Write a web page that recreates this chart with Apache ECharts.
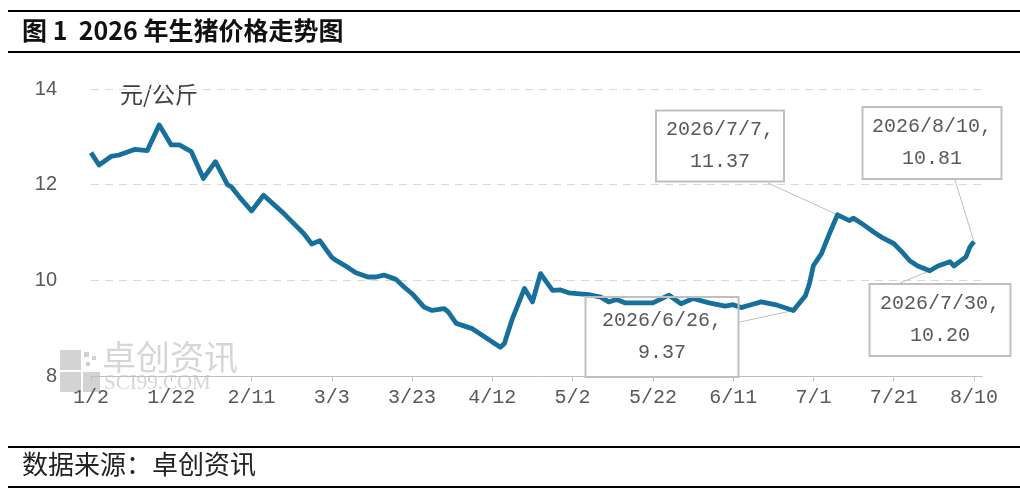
<!DOCTYPE html>
<html>
<head>
<meta charset="utf-8">
<script src="https://cdn.jsdelivr.net/npm/echarts@6/dist/echarts.min.js"></script>
<style>
  html, body { margin: 0; padding: 0; background: #fff; }
  #chart { width: 1020px; height: 498px; }
</style>
</head>
<body>
<div id="chart"></div>
<script>
// axis runs day by day, Excel-style date axis
var axisStart = '2026-01-02';
var axisEnd = '2026-08-12';

// prices (元/公斤)
var sampleDates = ['1/2','1/4','1/7','1/9','1/13','1/16','1/19','1/22','1/24','1/27','1/30',
  '2/2','2/5','2/6','2/8','2/11','2/14','2/19','2/24','2/26','2/28',
  '3/3','3/4','3/7','3/9','3/12','3/14','3/16','3/19','3/21','3/23','3/26','3/28','3/31',
  '4/1','4/3','4/7','4/9','4/12','4/14','4/15','4/17','4/20','4/22','4/24','4/27','4/29',
  '5/1','5/6','5/9','5/11','5/13','5/15','5/22','5/26','5/29',
  '6/1','6/5','6/9','6/11','6/13','6/15','6/18','6/22','6/26','6/29','6/30',
  '7/1','7/3','7/5','7/7','7/10','7/11','7/13','7/16','7/18','7/21','7/23','7/25','7/27','7/30',
  '8/1','8/4','8/5','8/8','8/9','8/10'];
var samplePrices = [12.67,12.41,12.59,12.62,12.74,12.71,13.25,12.83,12.83,12.69,12.13,
  12.48,12.00,11.95,11.74,11.45,11.78,11.40,10.98,10.76,10.83,
  10.48,10.42,10.27,10.16,10.07,10.07,10.11,10.02,9.86,9.72,9.44,9.37,9.41,
  9.34,9.10,8.99,8.88,8.71,8.60,8.68,9.20,9.83,9.55,10.14,9.79,9.80,
  9.74,9.70,9.65,9.55,9.60,9.53,9.53,9.69,9.51,
  9.62,9.53,9.46,9.49,9.43,9.48,9.55,9.48,9.37,9.68,9.93,
  10.31,10.56,10.98,11.37,11.25,11.30,11.19,11.01,10.90,10.77,10.60,10.41,10.30,10.20,
  10.30,10.39,10.30,10.49,10.70,10.81];

// points that carry a callout, where the box sits and where its leader leaves the box (px)
var calloutDates = ['6/26', '7/7', '7/30', '8/10'];
var calloutBoxes = {
  '6/26': { x: 662, y: 337, w: 155, h: 82, lx: 740, ly: 322 },
  '7/7':  { x: 720, y: 146, w: 130, h: 73, lx: 768, ly: 183 },
  '7/30': { x: 940, y: 320, w: 143, h: 74, lx: 900, ly: 283 },
  '8/10': { x: 932, y: 143, w: 141, h: 74, lx: 955, ly: 180 }
};

var categories = [];
var d = new Date(axisStart + 'T00:00:00');
var end = new Date(axisEnd + 'T00:00:00');
while (d <= end) {
  categories.push((d.getMonth() + 1) + '/' + d.getDate());
  d.setDate(d.getDate() + 1);
}

var seriesData = categories.map(function (c) {
  var i = sampleDates.indexOf(c);
  if (i < 0) return null;
  if (calloutDates.indexOf(c) >= 0) {
    var b = calloutBoxes[c];
    return {
      value: samplePrices[i],
      label: {
        show: true,
        formatter: '2026/' + c + ',\n' + samplePrices[i].toFixed(2),
        width: b.w - 2,
        height: b.h - 2,
        align: 'center',
        verticalAlign: 'middle'
      }
    };
  }
  return samplePrices[i];
});

var baseGraphic = [
  // rules above and below the title, and around the source note
  { type: 'rect', shape: { x: 8, y: 10, width: 1012, height: 2 }, style: { fill: '#000' } },
  { type: 'rect', shape: { x: 8, y: 51, width: 1012, height: 2 }, style: { fill: '#000' } },
  { type: 'rect', shape: { x: 8, y: 446, width: 1012, height: 2 }, style: { fill: '#000' } },
  { type: 'rect', shape: { x: 8, y: 486, width: 1012, height: 2 }, style: { fill: '#000' } },
  {
    type: 'text', left: 22, top: 18,
    style: { text: '图 1  2026 年生猪价格走势图', fill: '#111', fontSize: 25, fontWeight: 'bold', fontFamily: 'Noto Sans CJK SC' }
  },
  {
    type: 'text', left: 22, top: 451,
    style: { text: '数据来源：卓创资讯', fill: '#222', fontSize: 26, fontFamily: 'Noto Sans CJK SC' }
  },
  {
    type: 'text', left: 120, top: 83,
    style: { text: '元/公斤', fill: '#404040', fontSize: 23, fontFamily: 'Noto Sans CJK SC' }
  },
  // watermark
  {
    type: 'group', z: 10,
    children: [
      { type: 'rect', shape: { x: 60, y: 350, width: 21, height: 20 }, style: { fill: '#c8c8c8', opacity: 0.8 } },
      { type: 'rect', shape: { x: 60, y: 372, width: 21, height: 20 }, style: { fill: '#c8c8c8', opacity: 0.8 } },
      { type: 'rect', shape: { x: 83, y: 372, width: 17, height: 20 }, style: { fill: '#c8c8c8', opacity: 0.8 } },
      { type: 'rect', shape: { x: 84, y: 352, width: 5, height: 5 }, style: { fill: '#d0d0d0' } },
      { type: 'rect', shape: { x: 92, y: 356, width: 4, height: 4 }, style: { fill: '#d0d0d0' } },
      { type: 'rect', shape: { x: 86, y: 362, width: 4, height: 4 }, style: { fill: '#d0d0d0' } },
      {
        type: 'text', x: 102, y: 340,
        style: { text: '卓创资讯', fill: '#cfcfcf', opacity: 0.85, fontSize: 34, fontFamily: 'Noto Sans CJK SC' }
      },
      {
        type: 'text', x: 104, y: 373,
        style: { text: 'SCI99.COM', fill: '#cfcfcf', opacity: 0.85, fontSize: 21, fontFamily: 'Liberation Serif' }
      }
    ]
  }
];

var grey = '#595959';
var chart = echarts.init(document.getElementById('chart'));
chart.setOption({
  animation: false,
  grid: { left: 91, right: 38, top: 89, bottom: 122 },
  xAxis: {
    type: 'category',
    data: categories,
    boundaryGap: false,
    axisLine: { lineStyle: { color: '#bfbfbf', width: 1 } },
    axisTick: { interval: 19, length: 5, lineStyle: { color: '#bfbfbf' } },
    axisLabel: {
      interval: 19,
      margin: 12,
      color: grey,
      fontSize: 20,
      fontFamily: 'Liberation Mono'
    },
    splitLine: { show: false }
  },
  yAxis: {
    type: 'value',
    min: 8,
    max: 14,
    interval: 2,
    axisLine: { show: false },
    axisTick: { show: false },
    axisLabel: { margin: 34, color: grey, fontSize: 20, fontFamily: 'Liberation Sans' },
    splitLine: { lineStyle: { color: '#d9d9d9', type: [8, 6], width: 1 } }
  },
  series: [{
    type: 'line',
    data: seriesData,
    connectNulls: true,
    showSymbol: true,
    showAllSymbol: true,
    symbol: 'circle',
    symbolSize: 1,
    itemStyle: { color: 'rgba(0,0,0,0)', borderWidth: 0 },
    lineStyle: { color: '#17709b', width: 4.8, join: 'round' },
    label: {
      show: false,
      color: grey,
      fontSize: 20,
      lineHeight: 32,
      fontFamily: 'Liberation Mono',
      backgroundColor: 'transparent',
      borderColor: '#bfbfbf',
      borderWidth: 1
    },
    labelLayout: function (params) {
      var b = calloutBoxes[categories[params.dataIndex]];
      if (!b) return {};
      return { x: b.x, y: b.y, align: 'center', verticalAlign: 'middle' };
    },
    emphasis: { disabled: true },
    z: 3
  }],
  graphic: baseGraphic
});

// leader lines: from the box edge to the point, placed through the chart's own scales
var leaders = calloutDates.map(function (c) {
  var b = calloutBoxes[c];
  var p = chart.convertToPixel({ gridIndex: 0 }, [c, samplePrices[sampleDates.indexOf(c)]]);
  return {
    type: 'line', z: 2,
    shape: { x1: b.lx, y1: b.ly, x2: p[0], y2: p[1] },
    style: { stroke: '#bfbfbf', lineWidth: 1 }
  };
});
chart.setOption({ graphic: baseGraphic.concat(leaders) });
</script>
</body>
</html>
